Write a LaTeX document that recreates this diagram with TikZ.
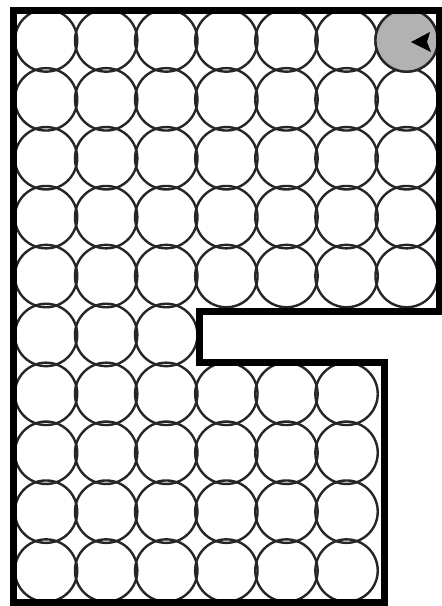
\documentclass[tikz,border=0pt]{standalone}
\begin{document}
\begin{tikzpicture}[x=1pt,y=-1pt,
  cell/.style={draw=black!85,line width=2.4pt},
  wall/.style={draw=black,line width=7pt,line join=miter},
  shaded/.style={cell,fill=black!30}]
\useasboundingbox (0,0) rectangle (442,606);
\fill[white] (0,0) rectangle (442,606);
\def\R{31.2}
\path (13,10) coordinate (p1) -- (439,10) coordinate (p2) -- (439,311) coordinate (p3)
  -- (199,311) coordinate (p4) -- (199,362) coordinate (p5) -- (384,362) coordinate (p6)
  -- (384,602) coordinate (p7) -- (13,602) coordinate (p8);
\begin{scope}
\clip (p1) -- (p2) -- (p3) -- (p4) -- (p5) -- (p6) -- (p7) -- (p8) -- cycle;
% rows 1-5, 7 columns
\foreach \r in {1,...,5}{
  \foreach \c in {1,...,7}{
    \draw[cell] ({16+60.1*(\c-0.5)},{11+58.9*(\r-0.5)}) circle (\R);
  }
}
% row 6, 3 columns
\foreach \c in {1,...,3}{
  \draw[cell] ({16+60.1*(\c-0.5)},{11+58.9*5.5}) circle (\R);
}
% rows 7-10, 6 columns
\foreach \r in {7,...,10}{
  \foreach \c in {1,...,6}{
    \draw[cell] ({16+60.1*(\c-0.5)},{11+58.9*(\r-0.5)}) circle (\R);
  }
}
% shaded start cell
\draw[shaded] ({16+60.1*6.5},{11+58.9*0.5}) circle (\R);
\fill[black] (411,42) -- (430,32) -- (427,42) -- (431,52) -- cycle;
\end{scope}
\draw[wall] (p1) -- (p2) -- (p3) -- (p4) -- (p5) -- (p6) -- (p7) -- (p8) -- cycle;
\end{tikzpicture}
\end{document}
